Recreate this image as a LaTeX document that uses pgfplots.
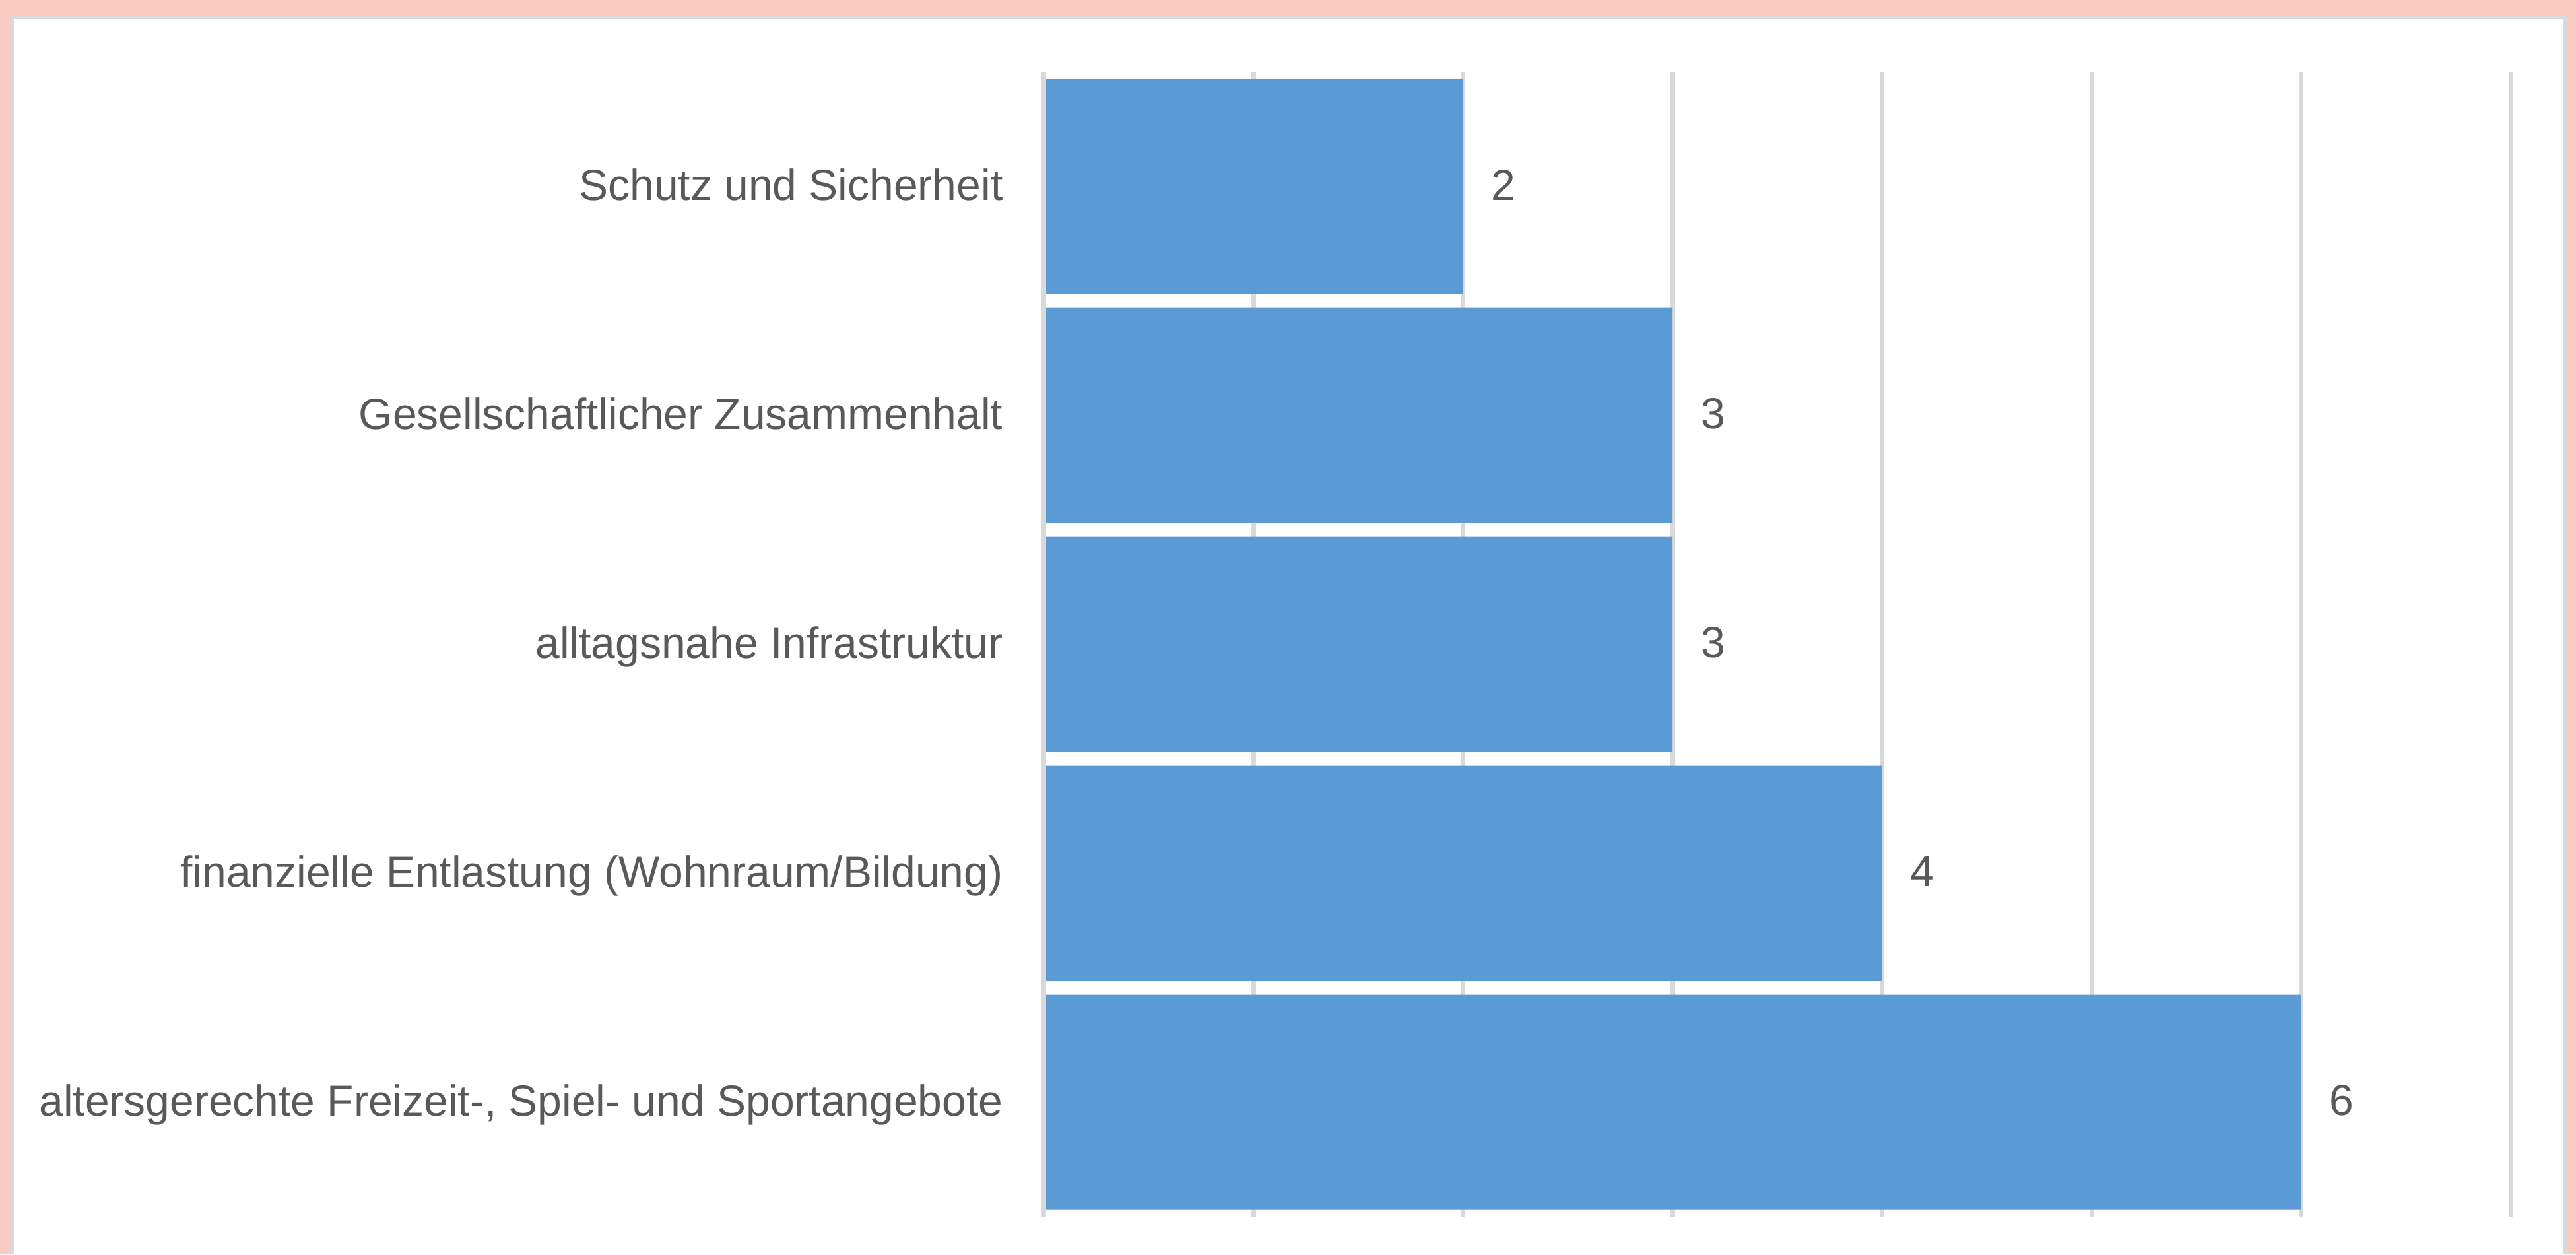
\documentclass[border=0pt]{standalone}
\usepackage{fontspec}
\setmainfont{Liberation Sans}
\usepackage{pgfplots}
\pgfplotsset{compat=1.18}
\definecolor{pinkbg}{HTML}{F9CBC1}
\definecolor{framegray}{HTML}{D9D9D9}
\definecolor{gridgray}{HTML}{D9D9D9}
\definecolor{barblue}{HTML}{5B9BD5}
\definecolor{textgray}{HTML}{595959}
\begin{document}
\begin{tikzpicture}
\useasboundingbox (0pt,0pt) rectangle (780.6pt,380.2pt);
\fill[pinkbg] (0pt,0pt) rectangle (780.6pt,380.2pt);
\fill[framegray] (2.8pt,0pt) rectangle (778.2pt,375.8pt);
\fill[white] (4.2pt,0pt) rectangle (776.8pt,374.4pt);
\begin{axis}[
  at={(316.3pt,11.4pt)}, anchor=south west,
  scale only axis, width=444.6pt, height=347pt,
  xbar, bar width=65.2pt,
  xmin=0, xmax=7, ymin=-0.5, ymax=4.5,
  xtick={0,1,2,3,4,5,6,7}, xticklabels={},
  xticklabel style={inner sep=0pt},
  xmajorgrids,
  grid style={draw=gridgray, line width=1.4pt},
  ytick={0,1,2,3,4},
  yticklabels={{altersgerechte Freizeit-, Spiel- und Sportangebote},
               {finanzielle Entlastung (Wohnraum/Bildung)},
               {alltagsnahe Infrastruktur},
               {Gesellschaftlicher Zusammenhalt},
               {Schutz und Sicherheit}},
  axis line style={draw=none},
  major tick length=0pt,
  yticklabel style={anchor=east, inner sep=0pt, xshift=-12.2pt, yshift=0.5pt,
    text height=9.5pt, text depth=0pt, text=textgray,
    font=\fontsize{13.2pt}{16pt}\selectfont},
  nodes near coords,
  nodes near coords style={anchor=west, inner sep=0pt, xshift=8.4pt, yshift=0.5pt,
    text=textgray, font=\fontsize{13.2pt}{16pt}\selectfont},
  /pgf/number format/assume math mode=true,
  clip=false,
]
\addplot[fill=barblue, draw=none] coordinates {(6,0) (4,1) (3,2) (3,3) (2,4)};
\draw[gridgray, line width=1.4pt] (axis cs:0,-0.5) -- (axis cs:0,4.5);
\end{axis}
\end{tikzpicture}
\end{document}
